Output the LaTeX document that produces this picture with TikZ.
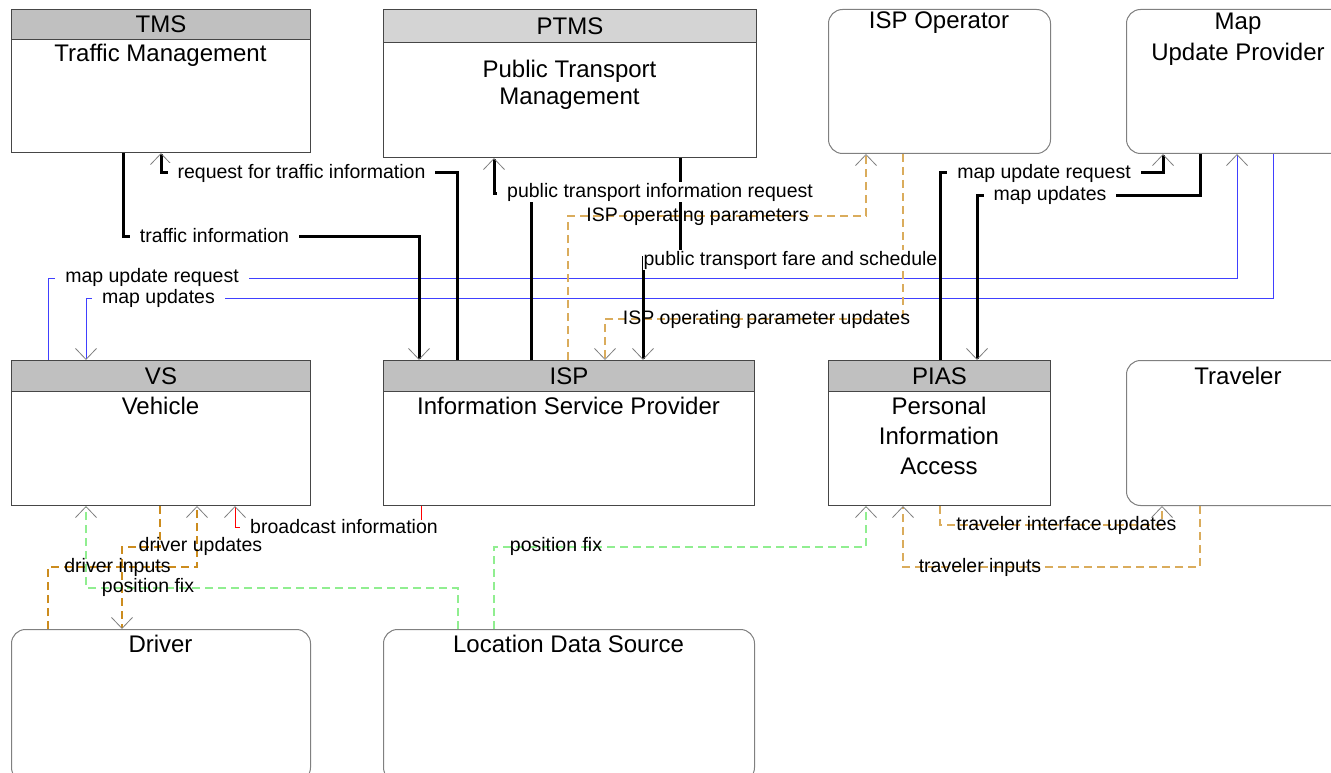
\documentclass[tikz,border=0pt]{standalone}
\usepackage{fontspec}
\setmainfont{Liberation Sans}
\usetikzlibrary{arrows.meta}

\definecolor{headgray}{RGB}{192,192,192}
\definecolor{headlight}{RGB}{212,212,212}
\definecolor{edgegray}{RGB}{70,70,70}
\definecolor{mapblue}{RGB}{64,64,255}
\definecolor{fixgreen}{RGB}{144,238,144}
\definecolor{optan}{RGB}{218,172,92}
\definecolor{drvtan}{RGB}{204,140,30}

\tikzset{
  subsys/.style={draw=edgegray, line width=1pt, fill=white, anchor=north west, inner sep=0pt},
  terminator/.style={subsys, draw=gray, rounded corners=14pt},
  boxhead/.style={subsys, fill=headgray, font=\fontsize{24}{28}\selectfont},
  boxtitle/.style={align=center, inner sep=0pt, font=\fontsize{24}{30}\selectfont},
  flowlabel/.style={inner xsep=10pt, inner ysep=1pt, fill=white, font=\fontsize{19.5}{21}\selectfont},
  dashlabel/.style={inner sep=0pt, font=\fontsize{19.5}{21}\selectfont},
  openhead/.style={-{Straight Barb[length=11pt,width=21pt,line width=0.8pt,color=gray]}},
  heavy/.style={openhead, line width=3pt},
  thinflow/.style={openhead, line width=1pt},
  opflow/.style={openhead, optan, line width=1.2pt, dash pattern=on 8pt off 5pt},
  drvflow/.style={opflow, drvtan},
  fixflow/.style={opflow, fixgreen}
}

\begin{document}
\begin{tikzpicture}[x=1pt, y=-1pt]
\useasboundingbox (0,0) rectangle (1331,773);

% subsystems
\node[subsys, minimum width=299pt, minimum height=143pt] (tms) at (11,9) {};
\node[boxhead, minimum width=299pt, minimum height=30pt] (tmshead) at (11,9) {TMS};
\node[boxtitle] (tmstitle) at (160.5,55) {Traffic Management};

\node[subsys, minimum width=373pt, minimum height=148pt] (ptms) at (383,9) {};
\node[boxhead, fill=headlight, minimum width=373pt, minimum height=33pt] (ptmshead) at (383,9) {PTMS};
\node[boxtitle, font=\fontsize{24}{27}\selectfont] (ptmstitle) at (569.5,85) {Public Transport\\Management};

\node[subsys, minimum width=299pt, minimum height=145pt] (vs) at (11,360) {};
\node[boxhead, minimum width=299pt, minimum height=31pt] (vshead) at (11,360) {VS};
\node[boxtitle] (vstitle) at (160.5,406) {Vehicle};

\node[subsys, minimum width=371pt, minimum height=145pt] (isp) at (383,360) {};
\node[boxhead, minimum width=371pt, minimum height=31pt] (isphead) at (383,360) {ISP};
\node[boxtitle] (isptitle) at (568.5,406) {Information Service Provider};

\node[subsys, minimum width=222pt, minimum height=145pt] (pias) at (828,360) {};
\node[boxhead, minimum width=222pt, minimum height=31pt] (piashead) at (828,360) {PIAS};
\node[boxtitle] (piastitle) at (939,436) {Personal\\Information\\Access};

% terminators
\node[terminator, minimum width=222pt, minimum height=144pt] (ispop) at (828,9) {};
\node[boxtitle] (ispoptitle) at (939,23) {ISP Operator};
\node[terminator, minimum width=224pt, minimum height=144pt] (mup) at (1126,9) {};
\node[boxtitle, font=\fontsize{24}{31}\selectfont] (muptitle) at (1238,39) {Map\\Update Provider};
\node[terminator, minimum width=224pt, minimum height=145pt] (trav) at (1126,360) {};
\node[boxtitle] (travtitle) at (1238,376) {Traveler};
\node[terminator, minimum width=299pt, minimum height=152pt] (drv) at (11,629) {};
\node[boxtitle] (drvtitle) at (160.5,644) {Driver};
\node[terminator, minimum width=371pt, minimum height=152pt] (lds) at (383,629) {};
\node[boxtitle] (ldstitle) at (568.5,644) {Location Data Source};

% flows
\draw[thinflow, mapblue] (vs.north -| 48,0) |- (1237,278) -- (mup.south -| 1237,0);
\draw[thinflow, mapblue] (mup.south -| 1273,0) |- (86,298) -- (vs.north -| 86,0);

\draw[opflow] (isp.north -| 568,0) |- (866,216) -- (ispop.south -| 866,0);
\draw[opflow] (ispop.south -| 903,0) |- (605,319) -- (isp.north -| 605,0);

\draw[heavy] (tms.south -| 123,0) |- (419,236) -- (isp.north -| 419,0);
\draw[heavy] (isp.north -| 457,0) |- (161,173) -- (tms.south -| 161,0);
\draw[heavy] (isp.north -| 531,0) |- (494,193) -- (ptms.south -| 494,0);
\draw[heavy] (ptms.south -| 680,0) |- (643,257) -- (isp.north -| 643,0);
\draw[heavy] (pias.north -| 940,0) |- (1163,173) -- (mup.south -| 1163,0);
\draw[heavy] (mup.south -| 1200,0) |- (977,195) -- (pias.north -| 977,0);

\draw[thinflow, red] (isp.south -| 421,0) |- (235,527) -- (vs.south -| 235,0);
\draw[drvflow] (vs.south -| 160,0) |- (122,547) -- (drv.north -| 122,0);
\draw[drvflow] (drv.north -| 48,0) |- (197,567) -- (vs.south -| 197,0);
\draw[fixflow] (lds.north -| 458,0) |- (86,588) -- (vs.south -| 86,0);
\draw[fixflow] (lds.north -| 494,0) |- (866,547) -- (pias.south -| 866,0);
\draw[opflow] (pias.south -| 940,0) |- (1162,525) -- (trav.south -| 1162,0);
\draw[opflow] (trav.south -| 1200,0) |- (903,567) -- (pias.south -| 903,0);

% flow labels
\node[flowlabel] (lblreqtraffic) at (301.5,173) {request for traffic information};
\node[flowlabel] (lbltraffic) at (214.5,236) {traffic information};
\node[flowlabel] (lblptreq) at (660,192) {public transport information request};
\node[dashlabel] (lblisppar) at (697.5,216) {ISP operating parameters};
\node[flowlabel, inner xsep=0.5pt] (lblptfare) at (790.5,260) {public transport fare and schedule};
\node[flowlabel] (lblvsmapreq) at (152,277) {map update request};
\node[flowlabel] (lblvsmap) at (158.5,298) {map updates};
\node[dashlabel] (lblispupd) at (766.5,319) {ISP operating parameter updates};
\node[flowlabel] (lblpiasmapreq) at (1044,173) {map update request};
\node[flowlabel] (lblpiasmap) at (1050,195) {map updates};
\node[flowlabel, inner ysep=0pt] (lblbroadcast) at (344,527) {broadcast information};
\node[dashlabel] (lbldrvupd) at (200.5,546) {driver updates};
\node[dashlabel] (lbldrvin) at (117.5,567) {driver inputs};
\node[dashlabel] (lblvsfix) at (148,587) {position fix};
\node[dashlabel] (lblpiasfix) at (556,546) {position fix};
\node[dashlabel] (lbltravupd) at (1066.5,525) {traveler interface updates};
\node[dashlabel] (lbltravin) at (980,567) {traveler inputs};
\end{tikzpicture}
\end{document}
